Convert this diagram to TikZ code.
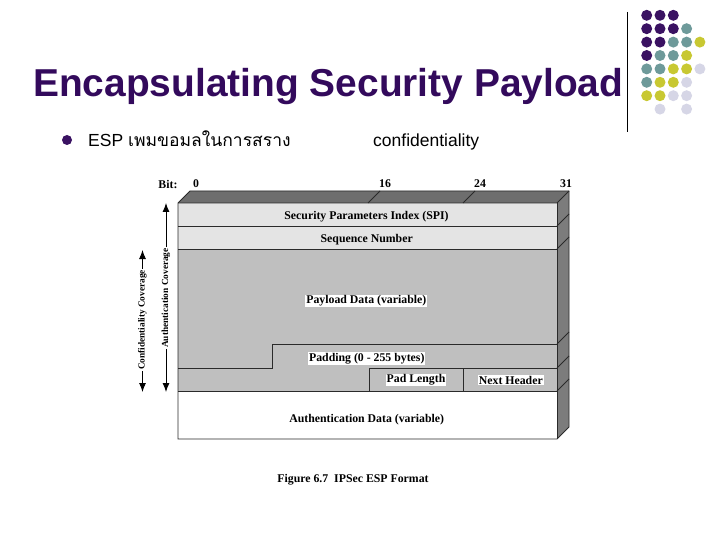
\documentclass[tikz,border=0pt]{standalone}
\usepackage{fontspec}
\setmainfont{Liberation Serif}
\newfontfamily\arialfont{Liberation Sans}
\newfontfamily\thaifont[Script=Thai]{Loma}
\usetikzlibrary{arrows.meta}
\definecolor{moradotit}{HTML}{330A5C}
\definecolor{pm}{HTML}{3A1262}
\definecolor{pt}{HTML}{6E9A9A}
\definecolor{py}{HTML}{C8C832}
\definecolor{pl}{HTML}{D6D6E6}
\definecolor{grissup}{HTML}{6E6E6E}
\definecolor{grislado}{HTML}{7C7C7C}
\definecolor{grisclaro}{HTML}{E4E4E4}
\definecolor{grismedio}{HTML}{BFBFBF}
\definecolor{linea}{HTML}{2A2A2A}
\begin{document}
\begin{tikzpicture}[x=1pt,y=-1pt,
    borde/.style={draw=linea, line width=0.9pt},
    campo/.style={font=\fontsize{11.8}{13}\selectfont\bfseries, inner sep=1pt},
    campoblanco/.style={campo, fill=white},
    cobertura/.style={draw=black, line width=0.9pt, -{Latex[length=9pt,width=7pt]}},
    cobtexto/.style={rotate=90, inner sep=1pt, font=\fontsize{9.3}{10}\selectfont\bfseries}]
    % Marco
    \useasboundingbox (0,0) rectangle (720,540);
    % Título
    \node[anchor=base west, inner sep=0pt, text=moradotit,
      font=\arialfont\fontsize{38.9}{40}\selectfont\bfseries] (titulo) at (33,97)
      {Encapsulating Security Payload};
    % Viñeta
    \fill[pm] (67,140) circle (5pt);
    \node[anchor=base west, inner sep=0pt, font=\arialfont\fontsize{17.5}{20}\selectfont] (esp) at (88,147)
      {ESP {\thaifont เพมขอมลในการสราง}};
    \node[anchor=base west, inner sep=0pt, font=\arialfont\fontsize{17.5}{20}\selectfont] (conf) at (373,147)
      {confidentiality};
    % Separador
    \draw[line width=1pt] (627,12) -- (627,132);
    % Puntos
    \foreach \c/\f/\col in {0/0/pm,1/0/pm,2/0/pm,
        0/1/pm,1/1/pm,2/1/pm,3/1/pt,
        0/2/pm,1/2/pm,2/2/pt,3/2/pt,4/2/py,
        0/3/pm,1/3/pt,2/3/pt,3/3/py,
        0/4/pt,1/4/pt,2/4/py,3/4/py,4/4/pl,
        0/5/pt,1/5/py,2/5/py,3/5/pl,
        0/6/py,1/6/py,2/6/pl,3/6/pl,
        1/7/pl,3/7/pl}
      \fill[\col] (646.7+13.3*\c, 15.3+13.4*\f) circle (5.5pt);
    % Caja: caras
    \fill[grissup] (178,203) -- (190,191) -- (569,191) -- (557,203) -- cycle;
    \fill[grislado] (557,203) -- (569,191) -- (569,427) -- (557,439) -- cycle;
    \fill[grisclaro] (178,203) rectangle (557,249);
    \fill[grismedio] (178,249) rectangle (557,391);
    \fill[white] (178,391) rectangle (557,439);
    % Caja: bordes
    \draw[borde] (178,203) -- (190,191) -- (569,191) -- (569,427) -- (557,439) -- (178,439) -- cycle;
    \draw[borde] (178,203) -- (557,203) -- (569,191);
    \draw[borde] (557,203) -- (557,439);
    \foreach \y in {226,249,344,368,391}
      \draw[borde] (557,\y) -- (569,\y-12);
    \draw[borde] (178,226) -- (557,226);
    \draw[borde] (178,249) -- (557,249);
    \draw[borde] (178,368) -- (272,368) -- (272,344) -- (557,344);
    \draw[borde] (369,368) -- (557,368);
    \draw[borde] (369,368) -- (369,391);
    \draw[borde] (463,368) -- (463,391);
    \draw[borde] (178,391) -- (557,391);
    % Marcas de bits
    \draw[borde] (368,203) -- (380,191);
    \draw[borde] (463,203) -- (475,191);
    % Etiquetas de bits
    \node[campo] (bit) at (168,184) {Bit:};
    \node[campo] (b0) at (196,184) {0};
    \node[campo] (b16) at (385,184) {16};
    \node[campo] (b24) at (480,184) {24};
    \node[campo] (b31) at (566,184) {31};
    % Campos
    \node[campo] (spi) at (366.5,216.5) {Security Parameters Index (SPI)};
    \node[campo] (seq) at (366.7,240) {Sequence Number};
    \node[campoblanco] (carga) at (366.3,301) {Payload Data (variable)};
    \node[campoblanco] (relleno) at (366.8,358.5) {Padding (0 - 255 bytes)};
    \node[campoblanco] (padlen) at (416,380) {Pad Length};
    \node[campoblanco] (sig) at (510.8,380) {Next Header};
    \node[campo] (autdat) at (366.7,420) {Authentication Data (variable)};
    % Coberturas
    \node[cobtexto] (autcob) at (166,298) {Authentication Coverage};
    \coordinate (autsup) at (166,203);
    \coordinate (autinf) at (166,392);
    \draw[cobertura] (autcob.east) -- (autsup);
    \draw[cobertura] (autcob.west) -- (autinf);
    \node[cobtexto] (confcob) at (142.5,320) {Confidentiality Coverage};
    \coordinate (confsup) at (142.5,250);
    \coordinate (confinf) at (142.5,392);
    \draw[cobertura] (confcob.east) -- (confsup);
    \draw[cobertura] (confcob.west) -- (confinf);
    % Pie
    \node[campo] (figura) at (353,480) {Figure 6.7\ \ IPSec ESP Format};
\end{tikzpicture}
\end{document}
